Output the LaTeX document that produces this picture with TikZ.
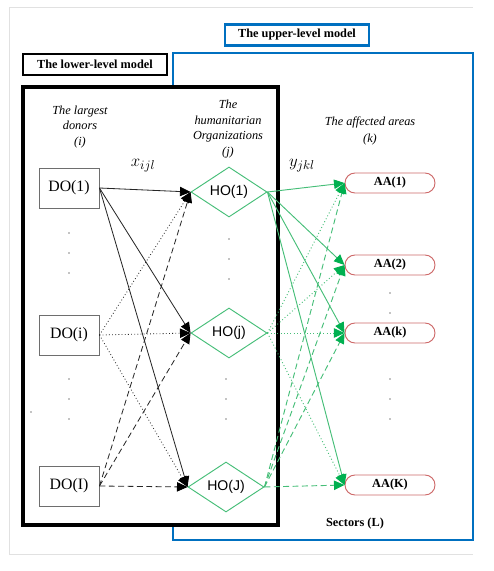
\documentclass[tikz,border=0pt]{standalone}
\usepackage{fontspec}
\setmainfont{Liberation Serif}
\setsansfont{Liberation Sans}
\usetikzlibrary{shapes.geometric,arrows.meta}
\definecolor{upblue}{RGB}{0,112,192}
\definecolor{dogray}{RGB}{110,110,110}
\definecolor{hogreen}{RGB}{70,190,120}
\definecolor{tipgreen}{RGB}{0,176,80}
\definecolor{aared}{RGB}{205,105,105}
\definecolor{framegray}{RGB}{225,225,225}

\begin{document}
\begin{tikzpicture}[
    x=0.03cm,y=-0.03cm,
    >={Triangle[length=9pt,width=8pt]},
    donor/.style={rectangle,draw=dogray,line width=0.8pt,
                  minimum width=1.8cm,minimum height=1.2cm,inner sep=0pt,
                  font=\fontsize{13.5}{15}\selectfont},
    org/.style={diamond,draw=hogreen,line width=0.8pt,aspect=1.52,
                minimum width=2.28cm,minimum height=1.5cm,inner sep=0pt,
                font=\sffamily\fontsize{12}{14}\selectfont},
    area/.style={rectangle,rounded corners=0.3cm,draw=aared,line width=0.8pt,
                 minimum width=2.7cm,minimum height=0.6cm,inner sep=0pt,
                 font=\bfseries\fontsize{10.5}{12}\selectfont},
    tag/.style={rectangle,draw=#1,line width=1.8pt,fill=white,
                minimum width=4.32cm,minimum height=0.63cm,inner sep=0pt,
                font=\bfseries\fontsize{10.5}{12}\selectfont},
    hdr/.style={align=center,font=\itshape\fontsize{10.5}{#1}\selectfont},
    flow/.style={font=\fontsize{15}{17}\selectfont},
    arr/.style={-{Triangle[length=9pt,width=8pt,color=black]},
                line width=0.7pt,black!85},
    garr/.style={-{Triangle[length=9pt,width=8pt,color=tipgreen]},
                 line width=0.8pt,hogreen},
    dsh/.style={dash pattern=on 5pt off 3pt}
  ]
  \useasboundingbox (0,0) rectangle (493,571);
  % frames
  \draw[framegray,line width=0.8pt] (473,7) -- (9,7) -- (9,554) -- (473,554);
  \draw[upblue,line width=2.4pt] (173,53) rectangle (473,540);
  \draw[black,line width=3pt,fill=white] (23,87) rectangle (278,525);
  \node[tag=black]  (lowtag) at (95,64.5) {The lower-level model};
  \node[tag=upblue] (uptag)  at (297,35)  {The upper-level model};
  % column headers
  \node[hdr=13.5pt] (dohdr) at (80,127)  {The largest\\donors\\(i)};
  \node[hdr=13.2pt] (hohdr) at (228,129) {The\\humanitarian\\Organizations\\(j)};
  \node[hdr=15pt]   (aahdr) at (370,131) {The affected areas\\(k)};
  \node[flow] (xlbl) at (143,166) {$x_{ijl}$};
  \node[flow] (ylbl) at (302,166) {$y_{jkl}$};
  % nodes
  \node[donor] (do1) at (69,188) {DO(1)};
  \node[donor] (doi) at (69,335) {DO(i)};
  \node[donor] (doI) at (69,486) {DO(I)};
  \node[org]   (ho1) at (229,192) {HO(1)};
  \node[org]   (hoj) at (229,333) {HO(j)};
  \node[org]   (hoJ) at (226,487) {HO(J)};
  \node[area]  (aa1) at (390,183) {AA(1)};
  \node[area]  (aa2) at (390,265) {AA(2)};
  \node[area]  (aak) at (390,333) {AA(k)};
  \node[area]  (aaK) at (390,485) {AA(K)};
  \node[font=\bfseries\fontsize{10.5}{12}\selectfont] (sec) at (355,524) {Sectors (L)};
  % vertical dots
  \foreach \x/\y in {69/233,69/253,69/273,69/379,69/399,69/419,
                     229/239,229/259,229/279,226/379,226/399,226/419,
                     390/293,390/313,390/379,390/399,390/419,31/412}
    \fill (\x,\y) circle (0.45pt);
  % donors to organizations
  \draw[arr]        (do1.east) -- (ho1.west);
  \draw[arr]        (do1.east) -- (hoj.west);
  \draw[arr]        (do1.east) -- (hoJ.west);
  \draw[arr,dotted] (doi.east) -- (ho1.west);
  \draw[arr,dotted] (doi.east) -- (hoj.west);
  \draw[arr,dotted] (doi.east) -- (hoJ.west);
  \draw[arr,dsh]    (doI.east) -- (ho1.west);
  \draw[arr,dsh]    (doI.east) -- (hoj.west);
  \draw[arr,dsh]    (doI.east) -- (hoJ.west);
  % organizations to affected areas
  \draw[garr]        (ho1.east) -- (aa1.west);
  \draw[garr]        (ho1.east) -- (aa2.west);
  \draw[garr]        (ho1.east) -- (aak.west);
  \draw[garr]        (ho1.east) -- (aaK.west);
  \draw[garr,dotted] (hoj.east) -- (aa1.west);
  \draw[garr,dotted] (hoj.east) -- (aa2.west);
  \draw[garr,dotted] (hoj.east) -- (aak.west);
  \draw[garr,dotted] (hoj.east) -- (aaK.west);
  \draw[garr,dsh]    (hoJ.east) -- (aa1.west);
  \draw[garr,dsh]    (hoJ.east) -- (aa2.west);
  \draw[garr,dsh]    (hoJ.east) -- (aak.west);
  \draw[garr,dsh]    (hoJ.east) -- (aaK.west);
\end{tikzpicture}
\end{document}
